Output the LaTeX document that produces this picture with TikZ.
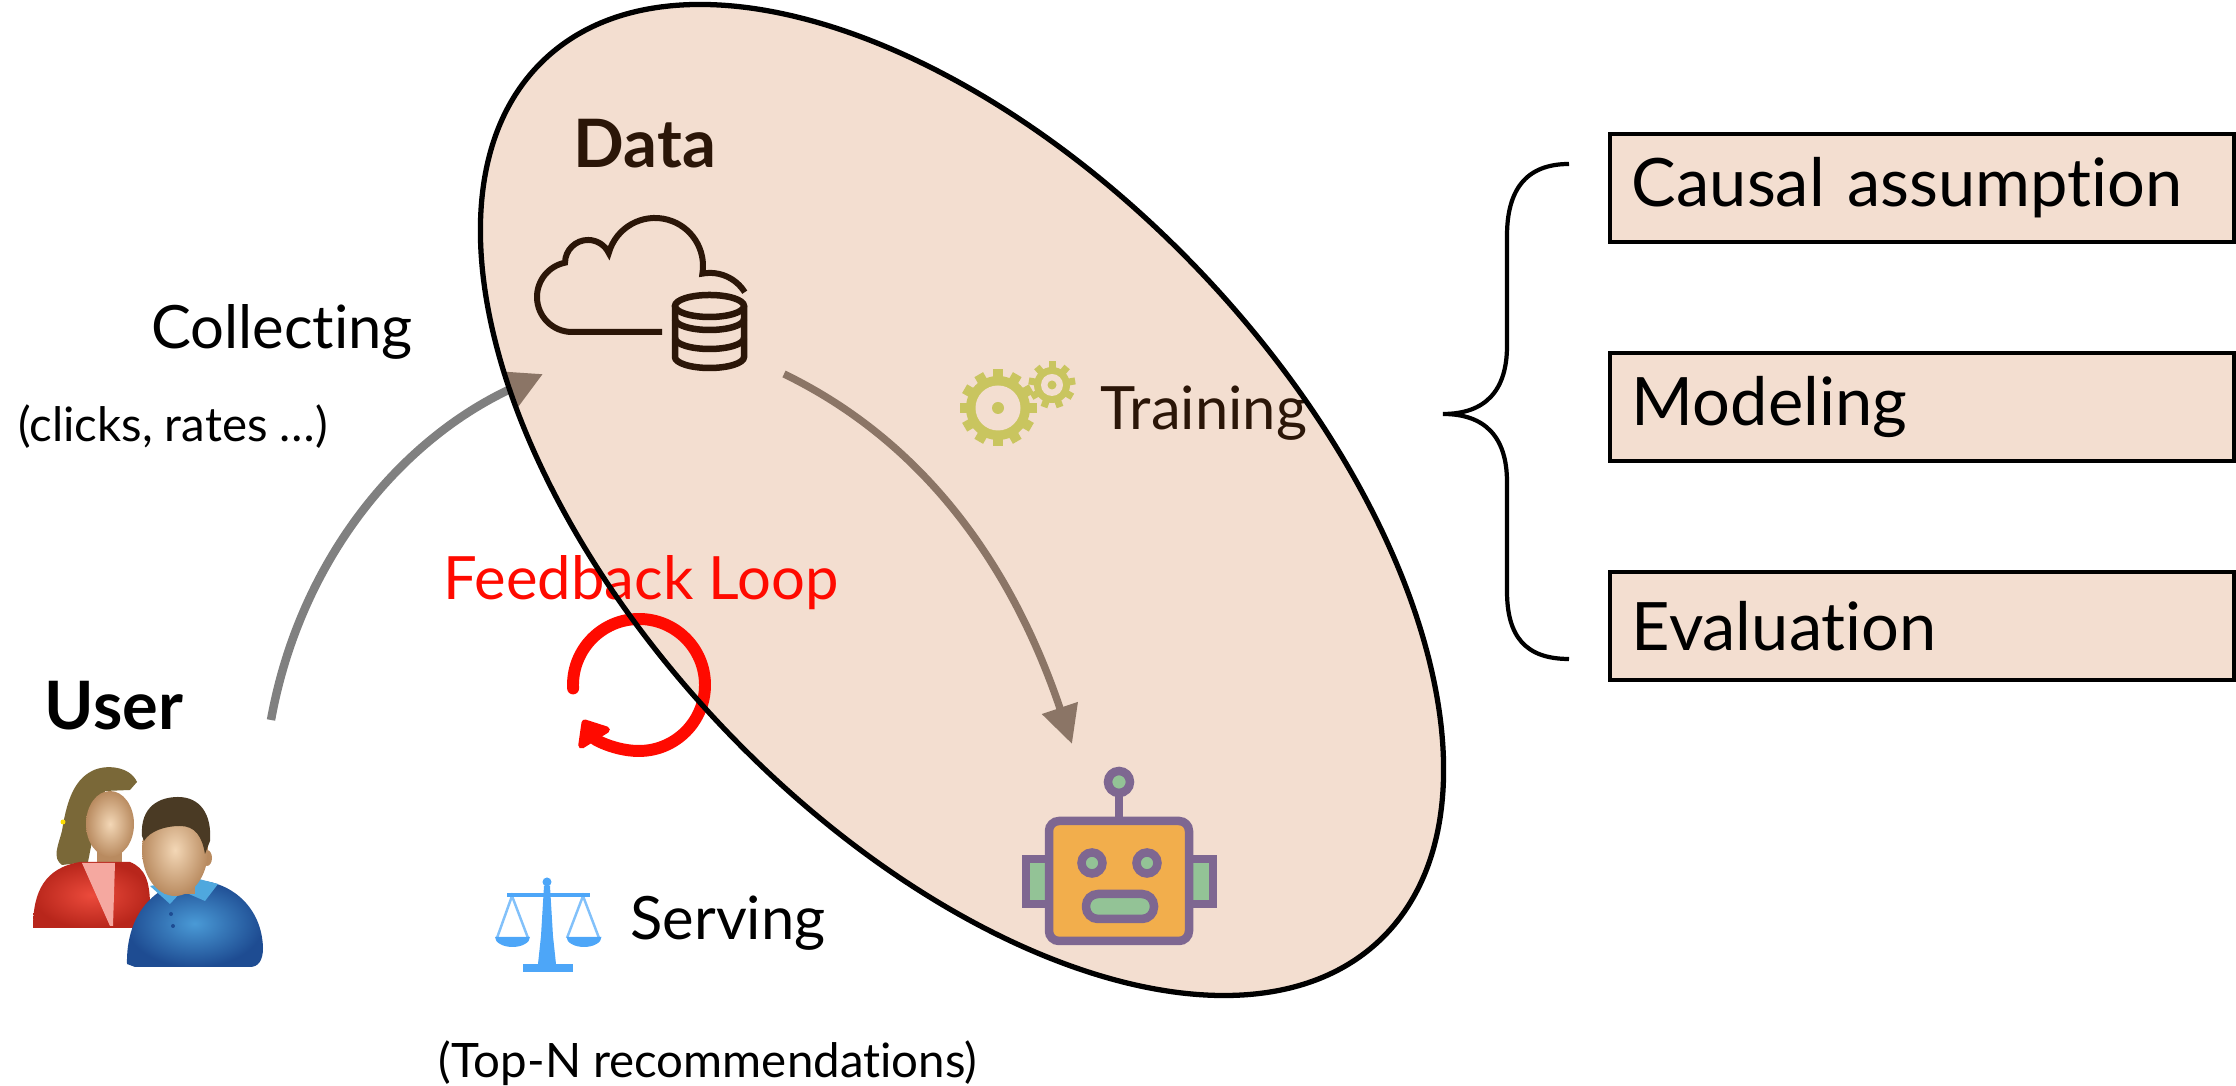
\documentclass[tikz,border=0pt]{standalone}
\usepackage{fontspec}
\setmainfont{Lato}[Ligatures = {NoCommon, NoRare}]
\usepackage{xcolor}
\usepackage{tikz}
\usetikzlibrary{positioning,shapes,arrows.meta}

\definecolor{peach}{HTML}{F3DED0}
\definecolor{darkbrown}{HTML}{2B1608}
\definecolor{arrowgrey}{HTML}{808080}
\definecolor{arrowbrown}{HTML}{8B7566}
\definecolor{gearolive}{HTML}{C9C55F}
\definecolor{scaleblue}{HTML}{4DA6F8}
\definecolor{robpurple}{HTML}{7E6791}
\definecolor{roborange}{HTML}{F2AE4C}
\definecolor{robgreen}{HTML}{93C396}
\definecolor{loopred}{HTML}{FF0A00}
\definecolor{skinlight}{HTML}{F3D7B6}
\definecolor{skindark}{HTML}{B98B60}
\definecolor{womanhair}{HTML}{7A6838}
\definecolor{manhair}{HTML}{4A3A24}
\definecolor{shirtred}{HTML}{EC4B3C}
\definecolor{shirtreddark}{HTML}{B8261B}
\definecolor{shirtblue}{HTML}{4A9AD6}
\definecolor{shirtbluedark}{HTML}{1E4C92}
\definecolor{collarblue}{HTML}{4FA8DE}
\definecolor{pinkshirt}{HTML}{F5A8A0}

\begin{document}
\begin{tikzpicture}[
    txt/.style = {anchor = base, font = \fontsize{17}{20}\selectfont},
    note/.style = {anchor = base, font = \fontsize{13.5}{16}\selectfont},
    heavy/.style = {anchor = base, font = \fontsize{19}{22}\selectfont\bfseries},
    stage/.style = {draw, line width = 1.1pt, fill = peach, anchor = west,
      minimum height = 1.08cm, text width = 5.8cm, inner xsep = 0.22cm,
      align = left, font = \fontsize{19}{22}\selectfont},
    robotpart/.style = {draw = robpurple, line width = 0.085cm, fill = robgreen}
  ]
  \useasboundingbox (0, 0) rectangle (22.36, 10.86);

  \fill[peach, rotate around = {-46.5:(9.62, 5.86)}] (9.62, 5.86)
    ellipse [x radius = 6.07, y radius = 3.30];

  \coordinate (U) at (2.71, 3.66);
  \coordinate (D1) at (5.43, 7.12);
  \coordinate (D2) at (7.84, 7.12);
  \coordinate (R) at (10.72, 3.42);
  \coordinate (L) at (6.39, 4.01);

  \draw[line width = 2.4pt, arrowgrey,
    -{Triangle[width = 0.36cm, length = 0.36cm, color = arrowbrown]}]
    (U) .. controls (3.0, 5.26) and (4.0, 6.46) .. (D1);
  \draw[line width = 2.1pt, arrowbrown, -{Triangle[width = 0.36cm, length = 0.38cm]}]
    (D2) .. controls (9.2, 6.46) and (10.1, 5.26) .. (R);

  \begin{scope}[darkbrown, line width = 0.06cm]
    \draw (6.62, 7.54) -- (5.72, 7.54)
      arc[start angle = 270, end angle = 101.5, radius = 0.35]
      arc[start angle = 179.3, end angle = 25.5, radius = 0.23]
      arc[start angle = 164.4, end angle = -9.2, radius = 0.48]
      arc[start angle = 100.7, end angle = 32, radius = 0.41];
    \draw[line width = 0.065cm] (7.095, 7.80) ellipse [x radius = 0.345, y radius = 0.11];
    \draw[line width = 0.065cm] (6.75, 7.80) -- (6.75, 7.29)
      arc[start angle = 180, end angle = 360, x radius = 0.345, y radius = 0.11] -- (7.44, 7.80);
    \draw[line width = 0.065cm] (6.75, 7.67)
      arc[start angle = 180, end angle = 360, x radius = 0.345, y radius = 0.11];
    \draw[line width = 0.065cm] (6.75, 7.48)
      arc[start angle = 180, end angle = 360, x radius = 0.345, y radius = 0.11];
  \end{scope}

  \begin{scope}[shift = {(9.98, 6.78)}]
    \fill[gearolive] (0, 0) circle (0.32);
    \foreach \a in {0, 30, ..., 330}
      \fill[gearolive, rotate = \a] (-0.05, 0.28) rectangle (0.05, 0.385);
    \fill[peach] (0, 0) circle (0.225);
    \fill[gearolive] (0, 0) circle (0.06);
  \end{scope}
  \begin{scope}[shift = {(10.52, 7.01)}]
    \fill[gearolive] (0, 0) circle (0.18);
    \foreach \a in {0, 40, ..., 320}
      \fill[gearolive, rotate = \a] (-0.035, 0.15) rectangle (0.035, 0.235);
    \fill[peach] (0, 0) circle (0.11);
    \fill[gearolive] (0, 0) circle (0.045);
  \end{scope}

  \begin{scope}[scaleblue]
    \fill (5.47, 2.04) circle (0.045);
    \fill (5.07, 1.885) rectangle (5.90, 1.93);
    \fill (5.44, 2.0) -- (5.50, 2.0) -- (5.53, 1.50) -- (5.56, 1.22) -- (5.38, 1.22) -- (5.41, 1.50) -- cycle;
    \fill (5.23, 1.14) rectangle (5.73, 1.22);
    \draw[line width = 0.7pt, opacity = 0.7] (4.97, 1.48) -- (5.12, 1.90) -- (5.28, 1.48);
    \draw[line width = 0.7pt, opacity = 0.7] (5.67, 1.48) -- (5.83, 1.90) -- (5.99, 1.48);
    \fill (4.95, 1.49) arc[start angle = 180, end angle = 360, x radius = 0.175, y radius = 0.10] -- cycle;
    \fill (5.665, 1.49) arc[start angle = 180, end angle = 360, x radius = 0.175, y radius = 0.10] -- cycle;
  \end{scope}

  \begin{scope}
    \filldraw[robotpart] (10.26, 1.82) rectangle (10.53, 2.27);
    \filldraw[robotpart] (11.87, 1.82) rectangle (12.13, 2.27);
    \draw[robpurple, line width = 0.085cm] (11.19, 2.65) -- (11.19, 2.95);
    \filldraw[robotpart] (11.19, 3.04) circle (0.11);
    \filldraw[robotpart, fill = roborange, rounded corners = 0.1cm] (10.49, 1.45) rectangle (11.89, 2.65);
    \filldraw[robotpart] (10.92, 2.23) circle (0.105);
    \filldraw[robotpart] (11.47, 2.23) circle (0.105);
    \filldraw[robotpart, rounded corners = 0.12cm] (10.86, 1.67) rectangle (11.54, 1.92);
  \end{scope}

  \begin{scope}
    \fill[womanhair] (1.37, 3.04) .. controls (1.30, 3.20) and (1.05, 3.22) .. (0.92, 3.15)
      .. controls (0.72, 3.05) and (0.66, 2.80) .. (0.62, 2.55)
      .. controls (0.58, 2.40) and (0.52, 2.28) .. (0.62, 2.21)
      -- (0.88, 2.24) -- (0.95, 2.60) -- (1.05, 2.95) -- (1.30, 2.96) -- cycle;
    \fill[yellow!80!orange] (0.63, 2.64) circle (0.025);
    \fill[skindark] (0.97, 2.10) rectangle (1.22, 2.40);
    \shade[inner color = skinlight, outer color = skindark] (1.10, 2.62) ellipse [x radius = 0.24, y radius = 0.33];
    \fill[womanhair] (0.90, 2.92) .. controls (1.00, 3.05) and (1.25, 3.05) .. (1.37, 3.04)
      .. controls (1.25, 3.15) and (1.00, 3.15) .. (0.90, 2.92);
    \shade[inner color = shirtred, outer color = shirtreddark]
      (0.33, 1.58) .. controls (0.33, 1.95) and (0.45, 2.18) .. (0.80, 2.24)
      -- (1.30, 2.24) .. controls (1.45, 2.18) and (1.50, 2.05) .. (1.50, 1.80)
      -- (1.50, 1.58) -- cycle;
    \fill[pinkshirt] (0.82, 2.23) -- (1.15, 2.23) -- (1.13, 1.60) -- (1.10, 1.60) -- cycle;

    \shade[inner color = shirtblue, outer color = shirtbluedark]
      (1.27, 1.22) .. controls (1.26, 1.72) and (1.55, 2.02) .. (1.92, 2.06)
      .. controls (2.32, 2.06) and (2.62, 1.78) .. (2.63, 1.38)
      .. controls (2.63, 1.25) and (2.58, 1.19) .. (2.50, 1.19)
      -- (1.35, 1.19) -- cycle;
    \fill[collarblue] (1.50, 2.00) -- (1.70, 1.82) -- (1.82, 1.95) -- (2.05, 1.85)
      -- (2.18, 2.02) -- (1.95, 2.08) -- cycle;
    \fill[shirtbluedark] (1.71, 1.72) circle (0.02) (1.73, 1.60) circle (0.02);
    \fill[skindark] (1.64, 1.92) rectangle (1.95, 2.05);
    \fill[skindark] (2.07, 2.28) ellipse [x radius = 0.05, y radius = 0.08];
    \shade[inner color = skinlight, outer color = skindark] (1.75, 2.36) ellipse [x radius = 0.33, y radius = 0.46];
    \fill[manhair] (1.42, 2.50) .. controls (1.40, 2.80) and (1.60, 2.89) .. (1.78, 2.89)
      .. controls (2.00, 2.89) and (2.12, 2.72) .. (2.10, 2.45) -- (2.05, 2.32)
      .. controls (2.02, 2.50) and (1.95, 2.60) .. (1.80, 2.60)
      .. controls (1.65, 2.60) and (1.50, 2.55) .. (1.44, 2.45) -- cycle;
  \end{scope}

  \node[heavy, darkbrown] (data) at (6.45, 9.18) {
    Data
  };

  \node[txt] (collecting) at (2.82, 7.37) {
    Collecting
  };

  \node[note] (clicks) at (1.73, 6.44) {
    (clicks, rates …)
  };

  \node[txt, darkbrown] (training) at (12.04, 6.56) {
    Training
  };

  \node[txt, loopred] (feedback) at (6.41, 4.86) {
    Feedback Loop
  };

  \node[heavy] (user) at (1.14, 3.56) {
    User
  };

  \node[txt] (serving) at (7.28, 1.46) {
    Serving
  };

  \node[note] (topn) at (7.08, 0.08) {
    (Top-N recommendations)
  };

  \draw[loopred, line width = 3.4pt, line cap = round,
    -{Triangle[width = 0.42cm, length = 0.26cm, round]}]
    (L) ++(183:0.66) arc[start angle = 183, end angle = -148, radius = 0.66];

  \draw[line width = 1.5pt, rotate around = {-46.5:(9.62, 5.86)}] (9.62, 5.86)
    ellipse [x radius = 6.07, y radius = 3.30];

  \node[stage] (causal) at (16.08, 8.98) {
    Causal assumption
  };

  \node[stage] (modeling) at (16.08, 6.79) {
    Modeling
  };

  \node[stage] (evaluation) at (16.08, 4.60) {
    Evaluation
  };

  \draw[line width = 1.2pt] (15.69, 9.22) .. controls (15.25, 9.22) and (15.07, 8.95) .. (15.07, 8.50)
    -- (15.07, 7.40) .. controls (15.07, 6.95) and (14.85, 6.72) .. (14.43, 6.72)
    .. controls (14.85, 6.72) and (15.07, 6.49) .. (15.07, 6.04)
    -- (15.07, 4.95) .. controls (15.07, 4.50) and (15.25, 4.27) .. (15.69, 4.27);
\end{tikzpicture}
\end{document}
